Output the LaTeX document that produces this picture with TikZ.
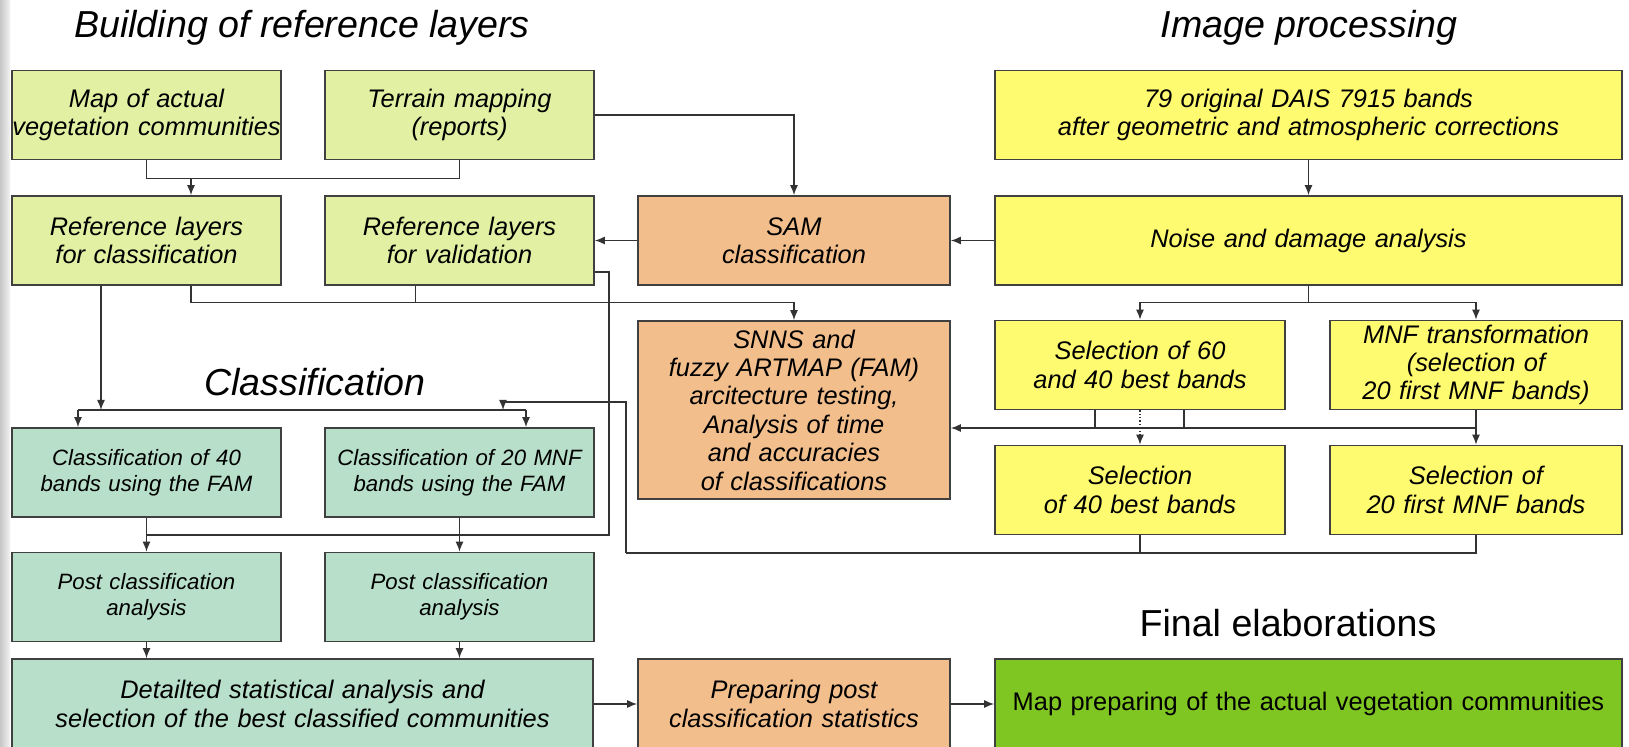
\documentclass[tikz,border=0pt]{standalone}
\usepackage{fontspec}
\setmainfont{Liberation Sans}
\usepackage{tikz}
\usetikzlibrary{arrows.meta}

\definecolor{refgreen}{RGB}{225,240,163}
\definecolor{procyellow}{RGB}{255,251,112}
\definecolor{samorange}{RGB}{242,190,140}
\definecolor{clsteal}{RGB}{183,223,201}
\definecolor{finalgreen}{RGB}{128,198,34}

\newcommand{\boxfont}{\fontsize{12.7}{14.2}\selectfont\itshape}
\newcommand{\clsfont}{\fontsize{11.1}{13.2}\selectfont\itshape}
\newcommand{\headfont}{\fontsize{18.8}{22}\selectfont\itshape}

\begin{document}
\begin{tikzpicture}[x=0.5pt, y=-0.5pt, node distance=156.5pt, >={Latex[length=5pt,width=4pt]},
    every node/.style={font=\boxfont},
    box/.style={draw=black!75, line width=0.8pt, inner sep=0pt, align=center, minimum height=44.5pt},
    refbox/.style={box, fill=refgreen, text width=134.5pt},
    ipbox/.style={box, fill=procyellow},
    ambox/.style={box, fill=samorange, text width=156pt},
    clbox/.style={box, fill=clsteal, font=\clsfont},
    finbox/.style={box, fill=finalgreen, font=\boxfont\upshape},
    heading/.style={font=\headfont},
    link/.style={draw=black!80, line width=0.7pt}]
    \useasboundingbox (0,0) rectangle (1629,747);
    \clip (0,0) rectangle (1629,747);
    \shade[left color=black!22, right color=black!5] (0,0) rectangle (10,747);

    % Headings
    \node[heading] (build-title) at (302,28) {Building of reference layers};
    \node[heading] (proc-title) at (1309,28) {Image processing};
    \node[heading] (class-title) at (315,382) {Classification};
    \node[heading, font=\headfont\upshape] (final-title) at (1288,623) {Final elaborations};

    % Building of reference layers
    \node[refbox] (map) at (146.5,115) {Map of actual\\vegetation communities};
    \node[refbox, right of=map] (terrain) {Terrain mapping\\(reports)};
    \node[refbox, below of=map, node distance=62.75pt] (refcls) {Reference layers\\for classification};
    \node[refbox, right of=refcls] (refval) {Reference layers\\for validation};

    % SAM and SNNS
    \node[ambox, right of=refval, xshift=10.75pt] (sam) {SAM\\classification};
    \node[ambox, minimum height=89pt] (snns) at (794,410) {SNNS and\\fuzzy ARTMAP (FAM)\\arcitecture testing,\\Analysis of time\\and accuracies\\of classifications};

    % Image processing
    \node[ipbox, text width=313.5pt] (orig) at (1308.5,115) {79 original DAIS 7915 bands\\after geometric and atmospheric corrections};
    \node[ipbox, text width=313.5pt, below of=orig, node distance=62.75pt] (noise) {Noise and damage analysis};
    \node[ipbox, text width=145pt] (sel60) at (1140,365) {Selection of 60\\and 40 best bands};
    \node[ipbox, text width=146pt, right of=sel60, node distance=168pt] (mnf) {MNF transformation\\(selection of\\20 first MNF bands)};
    \node[ipbox, text width=145pt, below of=sel60, node distance=62.5pt] (sel40) {Selection\\of 40 best bands};
    \node[ipbox, text width=146pt, right of=sel40, node distance=168pt] (sel20) {Selection of\\20 first MNF bands};

    % Classification
    \node[clbox, text width=134.5pt] (c40) at (146.5,472.5) {Classification of 40\\bands using the FAM};
    \node[clbox, text width=134.5pt, right of=c40] (c20) {Classification of 20 MNF\\bands using the FAM};
    \node[clbox, text width=134.5pt, below of=c40, node distance=62.25pt] (post1) {Post classification\\analysis};
    \node[clbox, text width=134.5pt, right of=post1] (post2) {Post classification\\analysis};

    % Final elaborations
    \node[clbox, font=\boxfont, text width=290.5pt, minimum height=45pt] (detail) at (302.5,704) {Detailted statistical analysis and\\selection of the best classified communities};
    \node[ambox, minimum height=45pt] (prep) at (794,704) {Preparing post\\classification statistics};
    \node[finbox, text width=313.5pt, minimum height=45pt] (mapprep) at (1308.5,704) {Map preparing of the actual vegetation communities};

    % Connectors: reference layers
    \draw[link] (map.south) -- ++(0,18) coordinate (mj) -| (terrain.south);
    \coordinate (clsin) at ([xshift=22.25pt]refcls.north);
    \draw[link, ->] (clsin |- mj) -- (clsin);
    \draw[link, ->] (terrain.east) -| (sam.north);
    \draw[link, ->] (sam.west) -- (refval.east);

    % Connectors: image processing
    \draw[link, ->] (orig.south) -- (noise.north);
    \draw[link, ->] (noise.west) -- (sam.east);
    \draw[link] (noise.south) -- ++(0,17) coordinate (nj);
    \draw[link, ->] (nj) -| (sel60.north);
    \draw[link, ->] (nj) -| (mnf.north);
    \draw[link, ->] (mnf.south) -- (sel20.north);
    \draw[link, ->, densely dotted] (sel60.south) -- (sel40.north);
    \draw[link] ([xshift=-22.5pt]sel60.south) -- ++(0,19);
    \draw[link] ([xshift=22pt]sel60.south) -- ++(0,19);
    \coordinate (sn) at (1476,428);
    \draw[link, ->] (sn) -- (sn -| snns.east);

    % Connectors: reference layers to SNNS
    \coordinate (clsout) at ([xshift=22.25pt]refcls.south);
    \coordinate (valout) at ([xshift=-22pt]refval.south);
    \draw[link, ->] (clsout) -- ++(0,17) coordinate (sj) -| (snns.north);
    \draw[link] (valout) -- (valout |- sj);

    % Connectors: classification
    \coordinate (clsdown) at ([xshift=-22.75pt]refcls.south);
    \coordinate (cl) at (78,410);
    \coordinate (cr) at (526,410);
    \draw[link] (cl) -- (cr);
    \draw[link, ->] (clsdown) -- (clsdown |- cl);
    \draw[link, ->] (cl) -- (cl |- c40.north);
    \draw[link, ->] (cr) -- (cr |- c20.north);
    \coordinate (bk) at (626,553);
    \coordinate (bu) at (626,402);
    \coordinate (cm) at (503,410);
    \draw[link] (sel20.south) |- (bk);
    \draw[link] (sel40.south) -- (sel40.south |- bk);
    \draw[link, ->] (bk) -- (bu) -| (cm);

    % Connectors: validation and post classification
    \coordinate (vr) at ([yshift=-15.75pt]refval.east);
    \coordinate (pj) at (609,535);
    \draw[link] (vr) -| (pj) -- (pj -| c40.south);
    \draw[link, ->] (c40.south) -- (post1.north);
    \draw[link, ->] (c20.south) -- (post2.north);
    \draw[link, ->] (post1.south) -- (post1.south |- detail.north);
    \draw[link, ->] (post2.south) -- (post2.south |- detail.north);
    \draw[link, ->] (detail.east) -- (prep.west);
    \draw[link, ->] (prep.east) -- (mapprep.west);
\end{tikzpicture}
\end{document}
